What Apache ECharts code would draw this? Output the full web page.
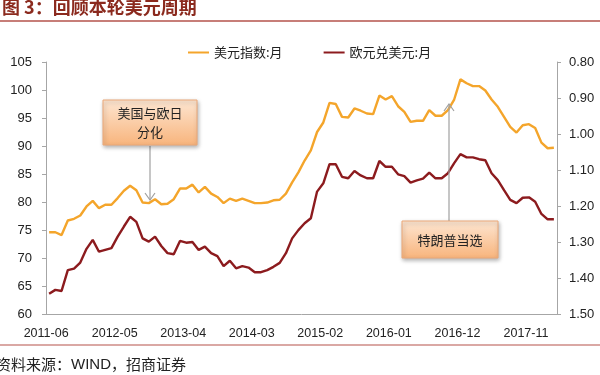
<!DOCTYPE html>
<html><head><meta charset="utf-8">
<script src="https://cdn.jsdelivr.net/npm/echarts@6/dist/echarts.min.js"></script>
<style>html,body{margin:0;padding:0;background:#fff}#c{width:600px;height:375px}</style>
</head><body><div id="c"></div>
<script>
const months = [
 '2011-06','2011-07','2011-08','2011-09','2011-10','2011-11','2011-12',
 '2012-01','2012-02','2012-03','2012-04','2012-05','2012-06','2012-07','2012-08','2012-09','2012-10','2012-11','2012-12',
 '2013-01','2013-02','2013-03','2013-04','2013-05','2013-06','2013-07','2013-08','2013-09','2013-10','2013-11','2013-12',
 '2014-01','2014-02','2014-03','2014-04','2014-05','2014-06','2014-07','2014-08','2014-09','2014-10','2014-11','2014-12',
 '2015-01','2015-02','2015-03','2015-04','2015-05','2015-06','2015-07','2015-08','2015-09','2015-10','2015-11','2015-12',
 '2016-01','2016-02','2016-03','2016-04','2016-05','2016-06','2016-07','2016-08','2016-09','2016-10','2016-11','2016-12',
 '2017-01','2017-02','2017-03','2017-04','2017-05','2017-06','2017-07','2017-08','2017-09','2017-10','2017-11','2017-12',
 '2018-01','2018-02','2018-03'
];
const dxy = [
 74.6,74.6,74.1,76.7,77.0,77.6,79.2,
 80.2,78.9,79.5,79.5,80.7,82.0,82.9,82.1,79.9,79.8,80.5,79.6,
 79.7,80.5,82.4,82.4,83.1,81.7,82.7,81.5,80.9,79.8,80.6,80.2,
 80.6,80.2,79.8,79.8,79.9,80.3,80.4,81.5,83.5,85.3,87.4,89.2,
 92.5,94.2,97.7,97.5,95.2,95.1,96.7,96.3,95.8,95.7,99.0,98.3,
 98.9,97.1,96.1,94.3,94.5,94.5,96.4,95.4,95.4,96.4,98.3,101.9,
 101.2,100.7,100.7,99.9,98.3,97.0,95.2,93.4,92.4,93.7,93.9,93.2,
 90.6,89.6,89.7
];
const eurusd = [
 1.444,1.433,1.436,1.378,1.374,1.357,1.319,
 1.294,1.327,1.322,1.317,1.285,1.257,1.230,1.244,1.290,1.299,1.285,1.311,
 1.331,1.334,1.297,1.302,1.300,1.322,1.313,1.331,1.339,1.367,1.352,1.373,
 1.367,1.371,1.384,1.384,1.378,1.369,1.358,1.331,1.290,1.267,1.248,1.234,
 1.160,1.137,1.084,1.084,1.119,1.123,1.103,1.115,1.123,1.123,1.075,1.091,
 1.091,1.112,1.117,1.135,1.129,1.124,1.107,1.123,1.123,1.109,1.081,1.056,
 1.065,1.065,1.070,1.073,1.109,1.128,1.156,1.183,1.192,1.177,1.176,1.188,
 1.222,1.237,1.237
];
const seriesNames = ['美元指数:月','欧元兑美元:月'];
const titleText = '图 3：回顾本轮美元周期';
const sourceParts = ['资料来源：', 'WIND', '，招商证券'];
const note1 = '美国与欧日\n分化';
const note2 = '特朗普当选';

const chart = echarts.init(document.getElementById('c'));
const numFont = 'Liberation Sans, Arial, sans-serif';
const cjk = '"Noto Sans CJK SC", sans-serif';
const mkFill = () => new echarts.graphic.LinearGradient(0,0,0,1,[{offset:0,color:'#FDE6D2'},{offset:1,color:'#F8B47C'}]);

chart.setOption({
  animation:false,
  grid:{left:46,right:43,top:62,bottom:61},
  legend:{
    left:183, top:41, itemWidth:21, itemHeight:2, itemGap:41, icon:'rect',
    textStyle:{fontFamily:cjk, fontSize:13, color:'#222'},
    data:seriesNames
  },
  xAxis:{
    type:'category', data:months, boundaryGap:true,
    axisLine:{lineStyle:{color:'#A6A6A6'}},
    axisTick:{interval:10, length:4, lineStyle:{color:'#A6A6A6'}},
    axisLabel:{interval:10, margin:13, padding:[0,6,0,0], align:'center', fontFamily:numFont, fontSize:12.5, color:'#222'},
    splitLine:{show:false}
  },
  yAxis:[
    {type:'value', min:60, max:105, interval:5, position:'left',
     axisLine:{show:true, lineStyle:{color:'#A6A6A6'}},
     axisTick:{show:true, length:4, lineStyle:{color:'#A6A6A6'}},
     axisLabel:{margin:14, fontFamily:numFont, fontSize:13, color:'#222'},
     splitLine:{show:false}},
    {type:'value', min:0.8, max:1.5, interval:0.1, inverse:true, position:'right',
     axisLine:{show:true, lineStyle:{color:'#A6A6A6'}},
     axisTick:{show:true, length:4, lineStyle:{color:'#A6A6A6'}},
     axisLabel:{margin:12, fontFamily:numFont, fontSize:13, color:'#222', formatter:v=>v.toFixed(2)},
     splitLine:{show:false}}
  ],
  series:[
    {name:seriesNames[0], type:'line', data:dxy, yAxisIndex:0, showSymbol:false, symbol:'none',
     lineStyle:{color:'#F4A52B', width:2.4}, itemStyle:{color:'#F4A52B'}, z:3},
    {name:seriesNames[1], type:'line', data:eurusd, yAxisIndex:1, showSymbol:false, symbol:'none',
     lineStyle:{color:'#8C1B1E', width:2.4}, itemStyle:{color:'#8C1B1E'}, z:2}
  ],
  graphic:[
    {type:'text', left:2, top:-2, style:{text:titleText, font:'bold 18px "Noto Sans CJK SC", sans-serif', fill:'#8B2A1E'}},
    {type:'line', shape:{x1:0,y1:21,x2:600,y2:21}, style:{stroke:'#B5534B', lineWidth:1.5}},
    {type:'line', shape:{x1:0,y1:345,x2:600,y2:345}, style:{stroke:'#B5534B', lineWidth:1.2}},
    {type:'text', left:-4, top:357, style:{
      text:'{c|' + sourceParts[0] + '}{a|' + sourceParts[1] + '}{c|' + sourceParts[2] + '}',
      rich:{
        c:{fontFamily:cjk, fontSize:15, fill:'#222', color:'#222'},
        a:{fontFamily:numFont, fontSize:15, fill:'#222', color:'#222'}
      }}},
    // annotation 1
    {type:'line', shape:{x1:150,y1:146,x2:150,y2:200}, style:{stroke:'#A0A0A0', lineWidth:1.2}, z:10},
    {type:'polyline', shape:{points:[[145,193],[150,200],[155,193]]}, style:{stroke:'#A0A0A0', lineWidth:1.2, fill:null}, z:10},
    {type:'rect', shape:{x:103,y:100,width:94,height:45}, style:{fill:mkFill(), stroke:'#EBA878', lineWidth:1, shadowBlur:4, shadowColor:'rgba(0,0,0,0.3)', shadowOffsetX:1, shadowOffsetY:2}, z:11},
    {type:'text', x:150, y:122.5, style:{text:note1, font:'13px "Noto Sans CJK SC", sans-serif', fill:'#222', align:'center', verticalAlign:'middle', lineHeight:19}, z:12},
    // annotation 2
    {type:'line', shape:{x1:449,y1:221,x2:449,y2:104}, style:{stroke:'#A0A0A0', lineWidth:1.2}, z:10},
    {type:'polyline', shape:{points:[[444,111],[449,104],[454,111]]}, style:{stroke:'#A0A0A0', lineWidth:1.2, fill:null}, z:10},
    {type:'rect', shape:{x:402,y:221,width:96,height:37}, style:{fill:mkFill(), stroke:'#EBA878', lineWidth:1, shadowBlur:4, shadowColor:'rgba(0,0,0,0.3)', shadowOffsetX:1, shadowOffsetY:2}, z:11},
    {type:'text', x:450, y:240, style:{text:note2, font:'13px "Noto Sans CJK SC", sans-serif', fill:'#222', align:'center', verticalAlign:'middle'}, z:12}
  ]
});
</script>
</body></html>
